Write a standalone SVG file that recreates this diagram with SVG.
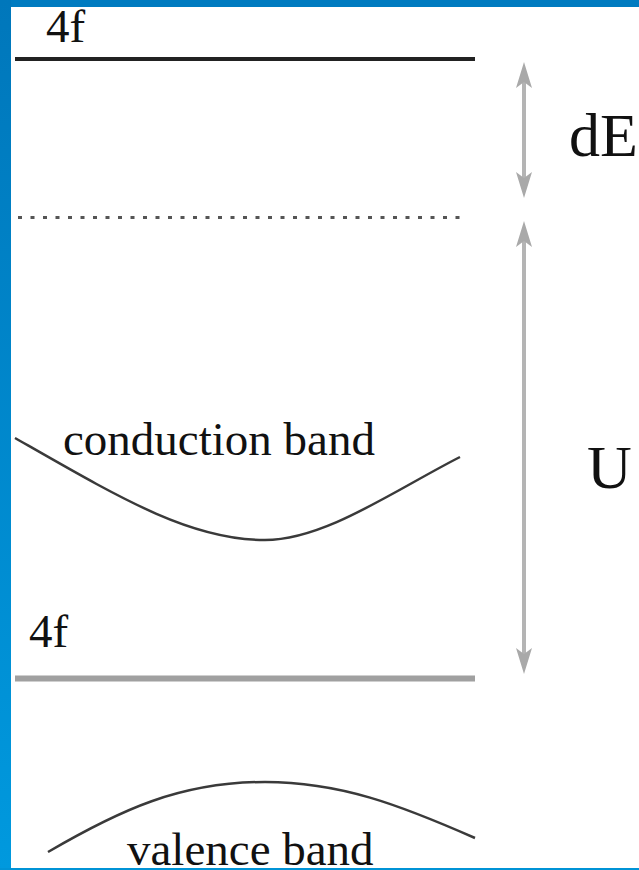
<svg xmlns="http://www.w3.org/2000/svg" width="639" height="870" viewBox="0 0 639 870">
<defs>
<linearGradient id="side" x1="0" y1="0" x2="0" y2="1">
<stop offset="0" stop-color="#0077bb"/>
<stop offset="1" stop-color="#0099de"/>
</linearGradient>
<marker id="ah" markerUnits="userSpaceOnUse" markerWidth="30" markerHeight="22" refX="8" refY="10" orient="auto-start-reverse">
<path d="M0,2 L26,10 L0,18 L6,10 z" fill="#a9a9a9"/>
</marker>
<style>
.lbl{font-family:"Liberation Serif","Times New Roman",serif;fill:#111}
.small{font-size:47px}
.big{font-size:62px}
.band{fill:none;stroke:#3a3a3a;stroke-width:2.5}
.arr{stroke:#b4b4b4;stroke-width:4;fill:none}
</style>
</defs>
<rect x="0" y="0" width="639" height="870" fill="#ffffff"/>
<rect x="0" y="0" width="639" height="7" fill="#007bc0"/>
<rect x="0" y="0" width="11" height="870" fill="url(#side)"/>
<rect x="0" y="868" width="639" height="2" fill="#0093d6"/>

<g id="level-4f-top">
<line x1="15" y1="59" x2="475" y2="59" stroke="#222" stroke-width="4"/>
<text class="lbl small" x="46" y="42">4f</text>
</g>
<g id="level-dotted">
<line x1="18" y1="217.5" x2="468" y2="217.5" stroke="#555" stroke-width="3" stroke-dasharray="4 8.5"/>
</g>
<g id="conduction-band">
<path class="band" d="M15,438 C120,498 190,540 265,540 C325,540 395,490 460,457"/>
<text class="lbl small" x="63" y="455">conduction band</text>
</g>
<g id="level-4f-bottom">
<line x1="15" y1="678.5" x2="475" y2="678.5" stroke="#a0a0a0" stroke-width="6"/>
<text class="lbl small" x="29" y="647" fill="#333">4f</text>
</g>
<g id="valence-band">
<path class="band" d="M48,852 C120,810 180,782 265,782 C340,782 400,805 475,838"/>
<text class="lbl small" x="127" y="865">valence band</text>
</g>
<g id="label-dE">
<text class="lbl big" x="569" y="156">dE</text>
</g>
<g id="label-U">
<text class="lbl big" x="587" y="488">U</text>
</g>
<g id="connectors">
<line class="arr" x1="524" y1="80" x2="524" y2="180" marker-start="url(#ah)" marker-end="url(#ah)"/>
<line class="arr" x1="524" y1="239" x2="524" y2="656" marker-start="url(#ah)" marker-end="url(#ah)"/>
</g>
</svg>
